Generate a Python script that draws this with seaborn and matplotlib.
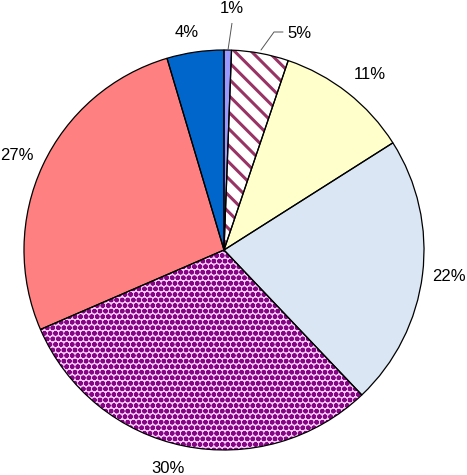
import matplotlib
matplotlib.use("Agg")
import matplotlib.pyplot as plt
import seaborn as sns
import numpy as np

# ---- data ----
values = [0.6, 4.6, 10.8, 21.9, 30.6, 26.9, 4.6]
labels = ["1%", "5%", "11%", "22%", "30%", "27%", "4%"]
face_colors = ["#9999ff", "#ffffff", "#ffffcc", "#dae6f4", "#f8ccf8", "#ff8080", "#0066cc"]
hatches = [None, "\\\\", None, None, "ooo", None, None]
hatch_colors = [None, "#993366", None, None, "#850585", None, None]
hatch_widths = [None, 2.2, None, None, 1.6, None, None]

# label layout (data units, pie radius = 1)
label_x = [0.04, 0.375, 0.73, 1.125, -0.28, -1.035, -0.185]
label_y = [1.185, 1.06, 0.855, -0.155, -1.115, 0.45, 1.065]

sns.set_style("white")
plt.rcParams["font.family"] = ["Liberation Sans", "DejaVu Sans"]
plt.rcParams["hatch.linewidth"] = 1.6

fig = plt.figure(figsize=(4.67, 4.75), dpi=100)
ax = fig.add_axes([24 / 467, 25 / 475, 400 / 467, 400 / 475])

palette = sns.color_palette(face_colors)
wedges, _ = ax.pie(values, colors=palette, startangle=90, counterclock=False,
                   radius=1, wedgeprops=dict(linewidth=0, edgecolor="none"))
for w, h, hc, hw in zip(wedges, hatches, hatch_colors, hatch_widths):
    if h:
        w.set_hatch(h)
        w.set_edgecolor(hc)
        w.set_linewidth(0)
        if hasattr(w, "set_hatch_linewidth"):
            w.set_hatch_linewidth(hw)

# outlines
ax.pie(values, startangle=90, counterclock=False, radius=1,
       wedgeprops=dict(fill=False, edgecolor="black", linewidth=0.9))

for lab, x, y in zip(labels, label_x, label_y):
    ax.text(x, y, lab, ha="center", va="baseline", fontsize=12, color="black")

# leader lines for the two small slices
ax.plot([0.02, 0.04], [1.0, 1.135], color="#555555", lw=0.7, solid_capstyle="butt")
ax.plot([0.185, 0.25, 0.295], [1.0, 1.09, 1.09], color="#555555", lw=0.7)

ax.set_xlim(-1, 1)
ax.set_ylim(-1, 1)
ax.set_aspect("equal")
ax.axis("off")
for c in ax.get_children():
    if hasattr(c, "set_clip_on"):
        c.set_clip_on(False)

fig.savefig("out.png", dpi=100)
